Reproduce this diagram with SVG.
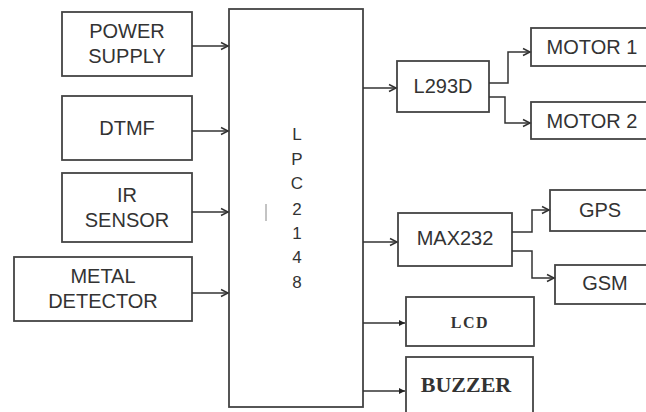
<svg xmlns="http://www.w3.org/2000/svg" width="646" height="412" viewBox="0 0 646 412">
<style>
.box{fill:#fff;stroke:#444;stroke-width:1.8}
.t{font-family:"Liberation Sans",Arial,sans-serif;font-size:20px;fill:#333;text-anchor:middle}
.s{font-family:"Liberation Serif","Times New Roman",serif;font-weight:bold;fill:#333;text-anchor:middle}
.c{fill:none;stroke:#333;stroke-width:1.5}
</style>
<defs>
<marker id="open" markerWidth="10" markerHeight="10" refX="8" refY="5" orient="auto" markerUnits="userSpaceOnUse">
<path d="M1,1.5 L8,5 L1,8.5" fill="none" stroke="#333" stroke-width="1.5"/>
</marker>
<marker id="fill" markerWidth="8" markerHeight="8" refX="6" refY="4" orient="auto" markerUnits="userSpaceOnUse">
<path d="M0,1 L6,4 L0,7 Z" fill="#222"/>
</marker>
</defs>
<rect width="646" height="412" fill="#fff"/>
<g id="power"><rect class="box" x="62" y="12" width="130" height="64"/><text class="t" x="127" y="38">POWER</text><text class="t" x="127" y="63">SUPPLY</text></g>
<g id="dtmf"><rect class="box" x="62" y="96" width="130" height="64"/><text class="t" x="127" y="135">DTMF</text></g>
<g id="ir"><rect class="box" x="62" y="173" width="130" height="69"/><text class="t" x="127" y="202">IR</text><text class="t" x="127" y="227">SENSOR</text></g>
<g id="metal"><rect class="box" x="14" y="257" width="178" height="64"/><text class="t" x="103" y="283">METAL</text><text class="t" x="103" y="308">DETECTOR</text></g>
<g id="lpc"><rect class="box" x="229" y="9" width="134" height="398"/>
<g class="t" style="font-size:17px"><text x="297" y="140">L</text><text x="297" y="165">P</text><text x="297" y="189">C</text><text x="297" y="215">2</text><text x="297" y="239">1</text><text x="297" y="263">4</text><text x="297" y="288">8</text></g>
<line x1="266" y1="204" x2="266" y2="221" stroke="#888" stroke-width="1"/></g>
<g id="l293d"><rect class="box" x="397" y="61" width="92" height="51"/><text class="t" x="443" y="93">L293D</text></g>
<g id="motor1"><rect class="box" x="531" y="28" width="130" height="38"/><text class="t" x="592" y="54">MOTOR 1</text></g>
<g id="motor2"><rect class="box" x="531" y="102" width="130" height="37"/><text class="t" x="592" y="128">MOTOR 2</text></g>
<g id="max232"><rect class="box" x="398" y="213" width="114" height="53"/><text class="t" x="455" y="245">MAX232</text></g>
<g id="gps"><rect class="box" x="550" y="190" width="110" height="41"/><text class="t" x="600" y="217">GPS</text></g>
<g id="gsm"><rect class="box" x="555" y="265" width="105" height="39"/><text class="t" x="605" y="290">GSM</text></g>
<g id="lcd"><rect class="box" x="406" y="297" width="128" height="49"/><text class="s" x="470" y="328" style="font-size:16px;letter-spacing:1.5px">LCD</text></g>
<g id="buzzer"><rect class="box" x="406" y="357" width="127" height="60"/><text class="s" x="466" y="392" style="font-size:22px">BUZZER</text></g>
<g id="connectors">
<path class="c" d="M192,46 H228" marker-end="url(#open)"/>
<path class="c" d="M192,131 H228" marker-end="url(#open)"/>
<path class="c" d="M192,212 H228" marker-end="url(#open)"/>
<path class="c" d="M192,293 H228" marker-end="url(#open)"/>
<path class="c" d="M363,88 H396" marker-end="url(#open)"/>
<path class="c" d="M489,83 H508 V52 H530" marker-end="url(#open)"/>
<path class="c" d="M489,97 H505 V123 H530" marker-end="url(#open)"/>
<path class="c" d="M363,242 H397" marker-end="url(#open)"/>
<path class="c" d="M512,232 H532 V210 H549" marker-end="url(#open)"/>
<path class="c" d="M512,251 H532 V278 H554" marker-end="url(#open)"/>
<path class="c" d="M363,323 H405" marker-end="url(#fill)"/>
<path class="c" d="M363,391 H405" marker-end="url(#fill)"/>
</g>
</svg>
